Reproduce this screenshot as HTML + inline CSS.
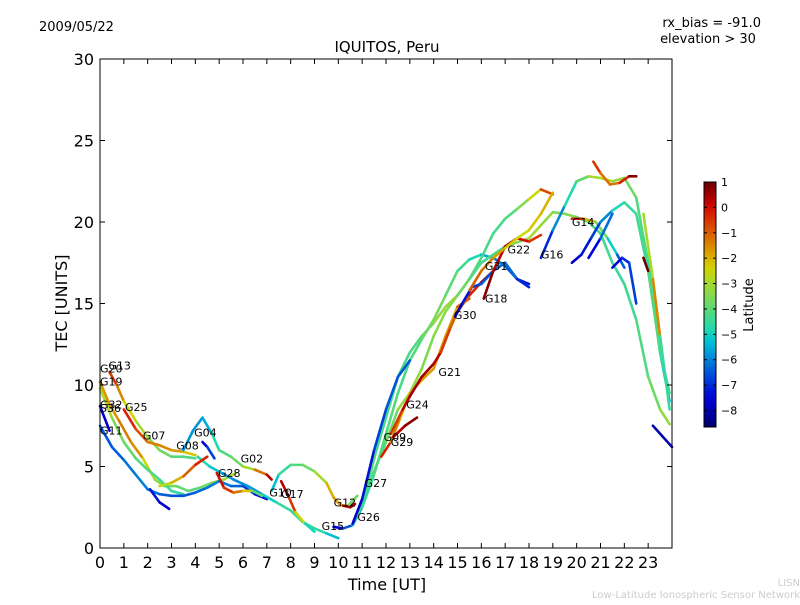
<!DOCTYPE html>
<html><head><meta charset="utf-8"><style>
body{margin:0;background:#fff;}
svg text{font-family:"DejaVu Sans","Liberation Sans",sans-serif;}
</style></head><body>
<svg id="c" width="800" height="600" viewBox="0 0 800 600">
<text x="39" y="31" font-size="13">2009/05/22</text>
<text x="761" y="27" font-size="13" text-anchor="end">rx_bias = -91.0</text>
<text x="708" y="43" font-size="13" text-anchor="middle">elevation &gt; 30</text>
<text x="387" y="52" font-size="15" text-anchor="middle">IQUITOS, Peru</text>
<text x="387" y="590" font-size="16" text-anchor="middle">Time [UT]</text>
<text transform="translate(67,303) rotate(-90)" font-size="16" text-anchor="middle">TEC [UNITS]</text>
<text x="800" y="586" font-size="10" fill="#ccc" text-anchor="end">LISN</text>
<text x="800" y="598" font-size="10" fill="#ccc" text-anchor="end">Low-Latitude Ionospheric Sensor Network</text>
<g id="plot"></g>
<g id="cb"></g>
</svg>
<script>
const xTicks=[0,1,2,3,4,5,6,7,8,9,10,11,12,13,14,15,16,17,18,19,20,21,22,23];
const yTicks=[0,5,10,15,20,25,30];
const cbTicks=[1,0,-1,-2,-3,-4,-5,-6,-7,-8];
const latMin=-8.65, latMax=1.0;
const s01=[[0.4,10.8,0],[0.7,10,-1],[1,9,-2],[1.5,7.8,-2.8],[2,6.8,-3.2],[2.5,6,-3.5],[3,5.6,-4],[3.5,5.6,-4.2],[4,5.5,-4.2]];
const s02=[[0,10.2,-1.5],[0.4,8.8,-1.8],[0.8,7.8,-1.5],[1.3,6.5,-1.2],[1.8,5.5,-2],[2.3,4.2,-3],[2.7,3.8,-3.5],[3.2,3.8,-3.8],[3.7,3.5,-4],[4.2,3.7,-4],[4.7,4,-3.5],[5.2,4.2,-3],[5.7,4.6,-3]];
const s03=[[0,9.8,-2.5],[0.5,8,-3.3],[1,6.5,-3.8],[1.5,5.5,-4],[2,4.8,-4.2],[2.5,4.2,-4.3],[3,3.5,-4.5],[3.5,3.3,-4.8]];
const s04=[[0,7.5,-6.5],[0.5,6.2,-6.5],[1,5.4,-6.3],[1.5,4.5,-6],[2,3.6,-6],[2.5,3.3,-6.3],[3,3.2,-6.5],[3.5,3.2,-6.6],[4,3.4,-6.4],[4.5,3.7,-6.2],[5,4.1,-6],[5.5,3.8,-6.2],[6,3.8,-6.5],[6.5,3.3,-7],[7,3,-7.5]];
const s05=[[1,8.5,0],[1.5,7.3,-0.5],[2,6.5,-1.2],[2.5,6.3,-1.5],[3,6,-1.5],[3.5,5.9,-2],[4,5.7,-2.5]];
const s06=[[2.1,3.6,-7],[2.5,2.8,-7.5],[2.9,2.4,-8]];
const s07=[[0,8.7,-7.5],[0.4,7.2,-8]];
const s08=[[3.5,6,-5.8],[3.9,7.2,-5.8],[4.3,8,-5.8],[4.7,7,-5.3],[5,6,-4.3],[5.5,5.6,-4],[6,5,-3.5],[6.5,4.8,-2.5],[7,4.5,0],[7.2,4.2,0.5]];
const s09=[[4.1,5.6,-4.5],[4.6,5,-5],[5.1,4.6,-5.5],[5.6,4.2,-5.8],[6.2,3.8,-6],[6.8,3.3,-5.5],[7.4,2.8,-4.8],[8,2.3,-4.3],[8.5,1.6,-4.5],[9,1.2,-4.5],[9.5,0.9,-4.8],[10,0.6,-5.8]];
const s10=[[2.5,3.8,-3],[3,4,-2.5],[3.5,4.4,-1.5],[4,5.1,-0.5],[4.5,5.6,0]];
const s11=[[4.3,6.5,-8],[4.5,6.2,-7.5],[4.8,5.5,-6]];
const s12=[[4.9,4.6,0],[5.2,3.7,0],[5.6,3.4,-1],[6,3.5,-1.5],[6.4,3.5,-3],[6.8,3.2,-5]];
const s13=[[7.2,3.5,-5.8],[7.5,4.5,-4.8],[8,5.1,-4.3],[8.5,5.1,-4],[9,4.7,-3.5],[9.5,4,-2.5],[9.8,3.1,-1.5],[10.1,2.6,-2],[10.4,2.6,-3],[10.8,3.2,-4.3]];
const s14=[[7.6,4.1,0.5],[7.9,3.2,0],[8.2,2.2,-1],[8.6,1.5,-4],[9,1,-6]];
const s15=[[10.2,2.6,0],[10.5,2.5,0.5],[10.7,2.7,0]];
const s16=[[9.8,1.3,-8],[10.2,1.2,-7],[10.6,1.4,-6],[11,2.5,-5],[11.5,4.5,-4.3],[12,7,-4],[12.5,9.5,-4.2],[13,11.5,-4.3],[13.5,12.8,-4],[14,14,-3.5],[14.5,15.5,-3.8],[15,17,-4.2],[15.5,17.7,-4.5],[16,18,-5.3],[16.5,17.8,-5.8],[17,17.3,-6.3],[17.5,16.5,-6.8],[18,16.2,-7.5]];
const s17=[[10.7,1.8,-4],[11.2,3.8,-4],[11.6,6,-4.3],[12,8,-4.3],[12.5,10.5,-4.3],[13,12,-4.3],[13.5,13,-4],[14,13.8,-3.5],[14.5,14.8,-3],[15,15.5,-3.5],[15.5,16.5,-4],[16,17.8,-4.3],[16.5,19.3,-4.3],[17,20.2,-4.3],[17.5,20.8,-4],[18,21.4,-3],[18.5,22,-2],[19,21.7,0.5]];
const s18=[[10.8,2,-4.3],[11.3,4,-4.3],[12,6.5,-4],[12.5,8.5,-3.5],[13,9.5,-3],[13.5,11,-3.5],[14,13,-3.5],[14.5,14.5,-3.2],[15,15.5,-3.5],[15.5,16.5,-4],[16,17.5,-4.3],[16.5,18,-4.3],[17,18.5,-4],[18,19,-3],[18.5,19.8,-3],[19,20.6,-3.5],[19.5,20.5,-3.5],[20,20.3,-3.5],[20.5,20,-4],[21,19.3,-4.3],[21.5,17.5,-4.5],[22,16.2,-4.5],[22.5,14,-4.3],[23,10.5,-4],[23.5,8.5,-3.5],[23.9,7.6,-3]];
const s19=[[10.6,1.5,-8],[11,3,-7.5],[11.5,6,-7],[12,8.5,-6.5],[12.5,10.5,-6.5],[13,11.5,-6.5]];
const s20=[[11.8,5.6,0.5],[12.2,6.5,-1],[12.6,8,-2],[13,9.5,-2],[13.5,10.3,-1.5],[14,11,-2],[14.5,13,-1.5],[15,14.8,-2],[15.5,15.3,0]];
const s21=[[12.2,7,-1],[12.7,8.5,0],[13,9.3,0.5],[13.5,10.5,0.5],[14,11.3,0.5],[14.3,12,0],[14.7,13.5,-1],[15,14.5,-1],[15.5,15.5,-1],[16,16.3,0.5],[16.5,17,0.5]];
const s22=[[12.3,6.8,0],[12.8,7.5,0.5],[13.3,8,1]];
const s23=[[14.9,14.2,-8],[15.2,15,-7.5],[15.6,16,-7],[16,16.2,-6.5],[16.5,17,-6.5],[17,17.5,-6],[17.5,16.5,-6.5],[18,16,-7.5]];
const s24=[[16.1,15.3,1],[16.5,17,0.5],[17,18.5,0],[17.5,19,1],[18,18.8,-1],[18.5,19.2,0]];
const s25=[[15.5,15.8,-1],[16,17,-1],[16.5,17.8,-1.5],[17,18.4,-2],[17.5,19,-2.5],[18,19.5,-2.5],[18.5,20.5,-2],[19,21.8,-2]];
const s26=[[18.5,17.8,-7.5],[19,19.5,-6.5],[19.5,21,-5.3],[20,22.5,-4.3],[20.5,22.8,-3.5],[21,22.7,-2.5],[21.5,22.5,-3],[22,22.7,-3.5],[22.5,21.5,-4],[23,17.5,-4.3],[23.5,12,-4.8],[23.9,9,-6]];
const s27=[[20.7,23.7,0],[21,23,-1],[21.4,22.3,-1.5],[21.8,22.4,-1],[22.2,22.8,0.5],[22.5,22.8,1]];
const s28=[[19.8,20.2,0.5],[20.3,20.2,-1],[20.8,20,-3],[21.3,19,-4.5],[21.7,18,-5.8],[22,17.2,-7]];
const s29=[[19.8,17.5,-8],[20.2,18,-7.5],[20.6,19,-7],[21,20,-6.5],[21.5,20.7,-5.3],[22,21.2,-4.5],[22.5,20.5,-4.5],[23,17,-4.3],[23.5,12,-4],[23.9,9.5,-5]];
const s30=[[20.5,17.8,-8],[21,19,-7],[21.5,20.5,-5.5]];
const s31=[[21.5,17.2,-8],[21.9,17.8,-7],[22.2,17.5,-7],[22.5,15,-6.5]];
const s32=[[22.8,20.5,-4],[23.2,16.5,-2],[23.5,13,-1],[23.9,8.5,-8]];
const s33=[[23.2,7.5,-8],[24,6.2,-8]];
const s34=[[22.8,17.8,1],[23,17,1]];
const series=[s01,s02,s03,s04,s05,s06,s07,s08,s09,s10,s11,s12,s13,s14,s15,s16,s17,s18,s19,s20,s21,s22,s23,s24,s25,s26,s27,s28,s29,s30,s31,s32,s33,s34];
const labelNames=["G20","G13","G19","G32","S36","G25","G11","G07","G08","G04","G02","G28","G10","G17","G12","G27","G15","G26","G09","G29","G24","G21","G30","G18","G31","G22","G16","G14"];
const labelT=[0,0.35,0,0,0,1.05,0,1.8,3.2,3.95,5.9,4.95,7.1,7.6,9.8,11.1,9.3,10.8,11.9,12.2,12.85,14.2,14.85,16.15,16.15,17.1,18.5,19.8];
const labelV=[11.0,11.2,10.2,8.8,8.6,8.65,7.2,6.9,6.3,7.1,5.5,4.6,3.4,3.3,2.8,4.0,1.35,1.9,6.8,6.5,8.8,10.8,14.3,15.3,17.3,18.3,18.0,20.0];

const L=100,R=672,T=59,B=548;
const xS=t=>L+t*(R-L)/24, yS=v=>B-v*(B-T)/30;
const NS='http://www.w3.org/2000/svg';
function mk(tag,attrs,parent){const e=document.createElementNS(NS,tag);for(const k in attrs)e.setAttribute(k,attrs[k]);parent.appendChild(e);return e;}
function interp(f,pts){for(let i=0;i<pts.length-1;i++){const a=pts[i],b=pts[i+1];if(f<=b[0]){return a[1]+(b[1]-a[1])*(f-a[0])/(b[0]-a[0]);}}return pts[pts.length-1][1];}
function jet(lat){let f=(lat-latMin)/(latMax-latMin);f=Math.max(0,Math.min(1,f));
 const r=interp(f,[[0,0],[0.35,0],[0.66,1],[0.89,1],[1,0.5]]);
 const g=interp(f,[[0,0],[0.125,0],[0.375,1],[0.64,1],[0.91,0],[1,0]]);
 const b=interp(f,[[0,0.5],[0.11,1],[0.34,1],[0.65,0],[1,0]]);
 const d=0.85;
 return `rgb(${Math.round(255*r*d)},${Math.round(255*g*d)},${Math.round(255*b*d)})`;}
const plot=document.getElementById('plot');
series.forEach((s,i)=>{
 const g=mk('g',{},plot);
 
 
 for(let j=0;j<s.length-1;j++){
  const a=s[j],b=s[j+1];
  const seg=mk('line',{x1:xS(a[0]),y1:yS(a[1]),x2:xS(b[0]),y2:yS(b[1]),stroke:jet((a[2]+b[2])/2),'stroke-width':2.6,'stroke-linecap':'round'},g);
  
  
 }
});
labelNames.forEach((n,i)=>{
 const t=mk('text',{x:xS(labelT[i]),y:yS(labelV[i])+4,'font-size':11},plot);
 t.textContent=n;
 
 
});
const frame=mk('rect',{x:L,y:T,width:R-L,height:B-T,fill:'none',stroke:'#000','stroke-width':1},plot);


xTicks.forEach(t=>{
 const x=xS(t);
 mk('line',{x1:x,y1:B,x2:x,y2:B-5,stroke:'#000'},plot);
 mk('line',{x1:x,y1:T,x2:x,y2:T+5,stroke:'#000'},plot);
 const tx=mk('text',{x:x,y:B+20,'font-size':16,'text-anchor':'middle'},plot);
 tx.textContent=t;
 
 
});
yTicks.forEach(v=>{
 const y=yS(v);
 mk('line',{x1:L,y1:y,x2:L+5,y2:y,stroke:'#000'},plot);
 mk('line',{x1:R,y1:y,x2:R-5,y2:y,stroke:'#000'},plot);
 const tx=mk('text',{x:L-6,y:y+6,'font-size':16,'text-anchor':'end'},plot);
 tx.textContent=v;
 
 
});
const cb=document.getElementById('cb');
const cT=182,cB=427,cL=704,cW=12;
const defs=mk('defs',{},cb);
const grad=mk('linearGradient',{id:'jg',x1:0,y1:1,x2:0,y2:0},defs);
for(let k=0;k<=20;k++){const f=k/20;mk('stop',{offset:f,'stop-color':jet(latMin+f*(latMax-latMin))},grad);}
const bar=mk('rect',{x:cL,y:cT,width:cW,height:cB-cT,fill:'url(#jg)',stroke:'#000','stroke-width':1},cb);


const cy=l=>cB-(l-latMin)/(latMax-latMin)*(cB-cT);
cbTicks.forEach(l=>{
 const y=cy(l);
 mk('line',{x1:cL,y1:y,x2:cL+3,y2:y,stroke:'#000'},cb);
 mk('line',{x1:cL+cW,y1:y,x2:cL+cW-3,y2:y,stroke:'#000'},cb);
 const tx=mk('text',{x:cL+cW+5,y:y+4,'font-size':11},cb);
 tx.textContent=l<0?'\u2212'+(-l):l;
 
 
});
const lt=mk('text',{transform:'translate(753,305) rotate(-90)','font-size':13,'text-anchor':'middle'},cb);
lt.textContent='Latitude';


</script>
</body></html>
